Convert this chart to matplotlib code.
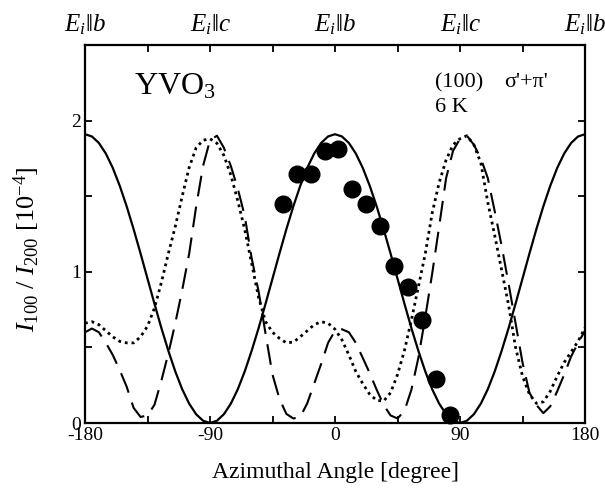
import matplotlib
matplotlib.use('Agg')
import matplotlib.pyplot as plt
from matplotlib.ticker import MultipleLocator

plt.rcParams['font.family'] = ['Liberation Serif', 'DejaVu Serif']
plt.rcParams['mathtext.fontset'] = 'custom'
plt.rcParams['mathtext.rm'] = 'Liberation Serif'
plt.rcParams['mathtext.it'] = 'Liberation Serif:italic'
plt.rcParams['axes.unicode_minus'] = False

# curve angles, 5 degree steps
angles = list(range(-180, 181, 5))

# solid curve
solid = [1.91, 1.895, 1.852, 1.782, 1.687, 1.569, 1.433, 1.282, 1.121, 0.955,
         0.789, 0.628, 0.478, 0.341, 0.223, 0.128, 0.058, 0.015, 0.0,
         0.015, 0.058, 0.128, 0.223, 0.341, 0.478, 0.628, 0.789, 0.955,
         1.121, 1.282, 1.433, 1.569, 1.687, 1.782, 1.852, 1.895, 1.91,
         1.895, 1.852, 1.782, 1.687, 1.569, 1.433, 1.282, 1.121, 0.955,
         0.789, 0.628, 0.478, 0.341, 0.223, 0.128, 0.058, 0.015, 0.0,
         0.015, 0.058, 0.128, 0.223, 0.341, 0.478, 0.628, 0.789, 0.955,
         1.121, 1.282, 1.433, 1.569, 1.687, 1.782, 1.852, 1.895, 1.91]

# dotted curve
dotted = [0.66, 0.67, 0.65, 0.61, 0.57, 0.54, 0.53, 0.53, 0.57, 0.64,
          0.76, 0.93, 1.12, 1.30, 1.50, 1.69, 1.82, 1.87, 1.88,
          1.85, 1.77, 1.64, 1.47, 1.28, 1.055, 0.83, 0.67, 0.60, 0.56,
          0.53, 0.535, 0.57, 0.61, 0.65, 0.67, 0.66, 0.62,
          0.55, 0.45, 0.34, 0.26, 0.19, 0.15, 0.145, 0.20, 0.32,
          0.48, 0.68, 0.90, 1.12, 1.39, 1.59, 1.74, 1.84, 1.88,
          1.90, 1.84, 1.72, 1.46, 1.24, 1.01, 0.78, 0.50, 0.31, 0.19,
          0.13, 0.14, 0.21, 0.31, 0.40, 0.47, 0.54, 0.63]

# dashed curve
dashed = [0.60, 0.625, 0.60, 0.53, 0.45, 0.35, 0.24, 0.10, 0.04, 0.05,
          0.12, 0.28, 0.46, 0.66, 0.88, 1.12, 1.43, 1.70, 1.87,
          1.90, 1.82, 1.70, 1.55, 1.37, 1.09, 0.87, 0.59, 0.32, 0.16,
          0.06, 0.03, 0.04, 0.13, 0.26, 0.39, 0.53, 0.61,
          0.62, 0.60, 0.53, 0.43, 0.33, 0.22, 0.12, 0.05, 0.03,
          0.08, 0.22, 0.43, 0.70, 0.99, 1.30, 1.62, 1.80, 1.88,
          1.90, 1.84, 1.75, 1.62, 1.40, 1.17, 0.92, 0.66, 0.40, 0.20,
          0.12, 0.065, 0.11, 0.21, 0.32, 0.44, 0.53, 0.61]

# measured points
pt_angle = [-37.5, -27.5, -17.5, -7.5, 2.5, 12.5, 22.5, 32.5, 42.5, 52.5, 62.5, 72.5, 82.5]
pt_value = [1.45, 1.645, 1.65, 1.80, 1.81, 1.55, 1.45, 1.30, 1.04, 0.90, 0.68, 0.29, 0.055]

top_angles = [-180, -90, 0, 90, 180]
top_labels = [r'$E_i\|b$', r'$E_i\|c$', r'$E_i\|b$', r'$E_i\|c$', r'$E_i\|b$']

fig = plt.figure(figsize=(6.05, 4.91), dpi=100)
ax = fig.add_axes([85 / 605, 68 / 491, 500 / 605, 378 / 491])

ax.plot(angles, solid, color='black', lw=1.6)
ax.plot(angles, dotted, color='black', lw=2.0, linestyle=(0, (1, 1.4)))
ax.plot(angles, dashed, color='black', lw=1.5, linestyle=(0, (10, 5)))
ax.plot(pt_angle, pt_value, 'o', color='black', ms=12, clip_on=False)

ax.set_xlim(-180, 180)
ax.set_ylim(0, 2.5)
ax.xaxis.set_major_locator(MultipleLocator(90))
ax.xaxis.set_minor_locator(MultipleLocator(45))
ax.yaxis.set_major_locator(MultipleLocator(1))
ax.yaxis.set_minor_locator(MultipleLocator(0.5))
ax.set_yticks([0, 1, 2])
ax.tick_params(which='both', direction='in', top=True, right=True,
               width=1.3, labelsize=14)
ax.tick_params(which='major', length=5, pad=3)
ax.tick_params(which='minor', length=5)
for s in ax.spines.values():
    s.set_linewidth(1.6)

ax.set_xlabel('Azimuthal Angle [degree]', fontsize=17, labelpad=13)
ax.set_ylabel(r'$I_{100}$ / $I_{200}$ [10$^{-4}$]', fontsize=19)
ax.yaxis.set_label_coords(-0.085, 0.46)

for a, lab in zip(top_angles, top_labels):
    ax.text(a, 1.022, lab, transform=ax.get_xaxis_transform(), ha='center',
            va='bottom', fontsize=18, clip_on=False)

ax.text(-145, 2.17, r'YVO$_3$', fontsize=23, ha='left', va='baseline')
ax.text(72, 2.22, "(100)", fontsize=16, ha='left', va='baseline')
ax.text(122, 2.22, "σ'+π'", fontsize=16, ha='left', va='baseline')
ax.text(72, 2.055, '6 K', fontsize=16, ha='left', va='baseline')

fig.savefig('out.png', dpi=100)
